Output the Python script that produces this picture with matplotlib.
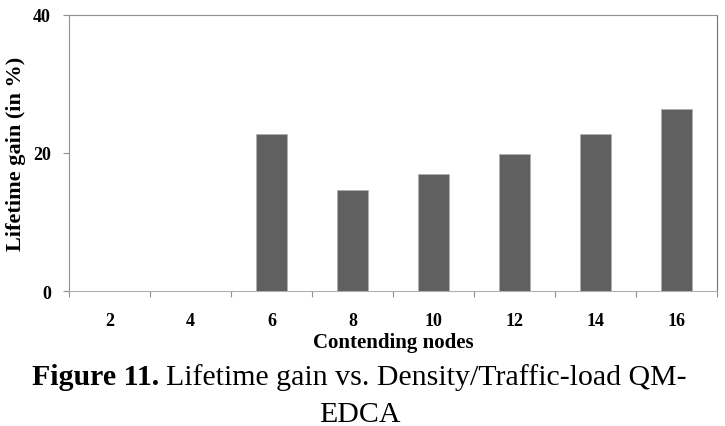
import numpy as np
import matplotlib.pyplot as plt

nodes = ['2', '4', '6', '8', '10', '12', '14', '16']
gain = [0, 0, 22.8, 14.6, 16.9, 19.8, 22.8, 26.4]
yticks = [0, 20, 40]

plt.rcParams['font.family'] = ['Liberation Serif', 'DejaVu Serif']

fig = plt.figure(figsize=(7.25, 4.27), dpi=100)
ax = fig.add_axes([0.095, 0.316, 0.894, 0.647])

x = np.arange(len(nodes))
ax.bar(x, gain, width=0.38, color='#606060', edgecolor='#b0b0b0', linewidth=0.6, zorder=3)

ax.set_xlim(-0.5, len(nodes) - 0.5)
ax.set_ylim(0, 40)
ax.set_yticks(yticks)
ax.set_yticklabels([str(t) for t in yticks], fontweight='bold', fontsize=13)

# ticks sit between categories, labels at the centres
ax.set_xticks(np.arange(-0.5, len(nodes)), minor=False)
ax.set_xticklabels([])
ax.set_xticks(x, minor=True)
ax.set_xticklabels(nodes, minor=True, fontweight='bold', fontsize=13)
ax.tick_params(axis='x', which='minor', length=0, pad=15)
ax.tick_params(axis='x', which='major', length=4, color='#909090')
ax.tick_params(axis='y', length=4, color='#909090', pad=9)

for side in ['left', 'top']:
    ax.spines[side].set_color('#909090')
ax.spines['right'].set_color('#707070')
ax.spines['bottom'].set_color('#b0b0b0')

ax.set_xlabel('Contending nodes', fontweight='bold', fontsize=15, labelpad=2)
ax.set_ylabel('Lifetime gain (in %)', fontweight='bold', fontsize=16, labelpad=5)

# caption with a bold lead-in
fig.canvas.draw()
r = fig.canvas.get_renderer()
t1 = fig.text(0.044, 0.098, 'Figure 11.', fontweight='bold', fontsize=21.5, va='baseline')
bb = t1.get_window_extent(r).transformed(fig.transFigure.inverted())
fig.text(bb.x1 + 0.01, 0.098, 'Lifetime gain vs. Density/Traffic-load QM-', fontsize=21.5, va='baseline')
fig.text(0.497, 0.012, 'EDCA', fontsize=21.5, ha='center', va='baseline')

fig.savefig('out.png', dpi=100)
